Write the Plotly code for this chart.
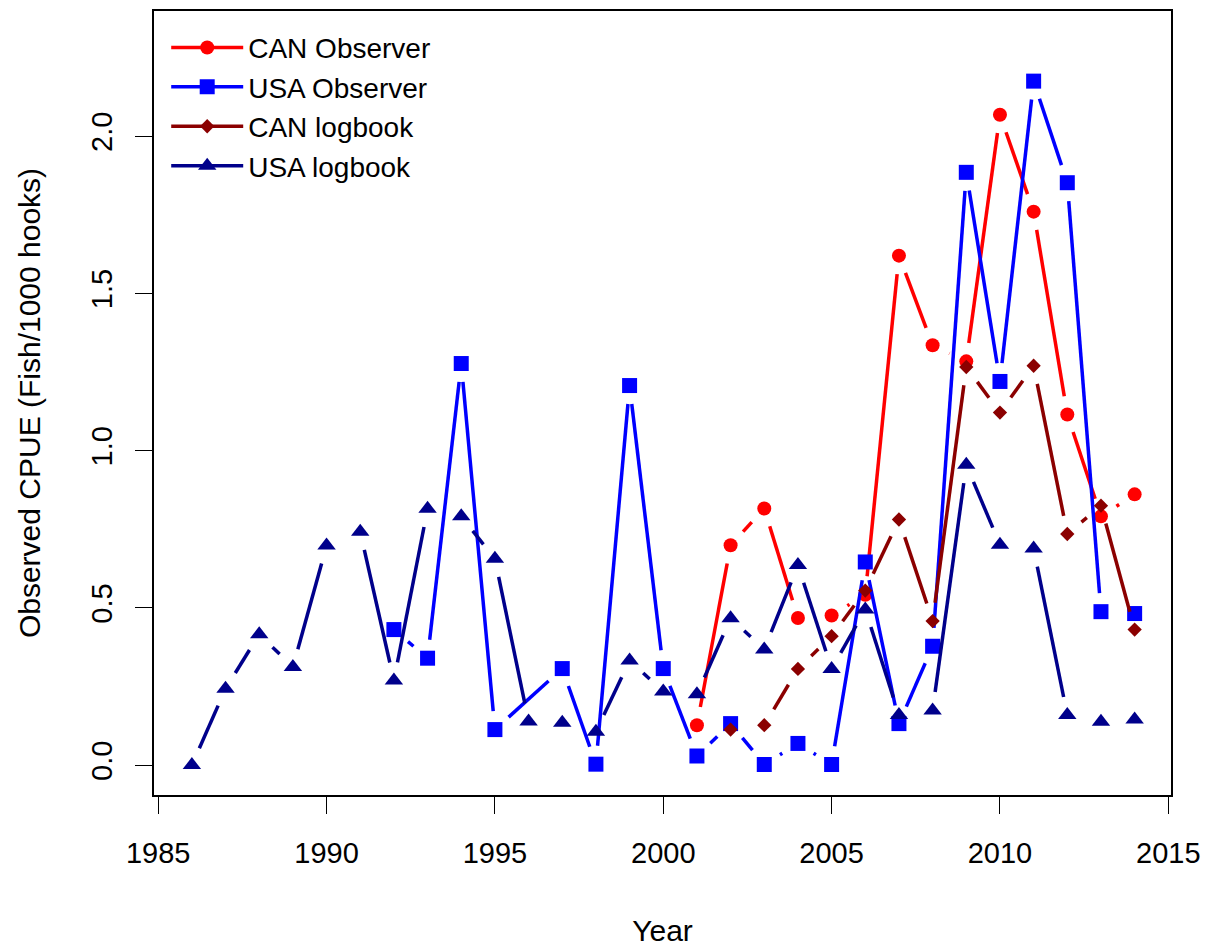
import math
import plotly.graph_objects as go

# ---- data ----
can_obs_years = [2001, 2002, 2003, 2004, 2005, 2006, 2007, 2008, 2009, 2010, 2011, 2012, 2013, 2014]
can_obs_cpue = [0.127, 0.699, 0.816, 0.468, 0.476, 0.542, 1.620, 1.335, 1.284, 2.068, 1.760, 1.115, 0.791, 0.861]

usa_obs_years = [1992, 1993, 1994, 1995, 1997, 1998, 1999, 2000, 2001, 2002, 2003, 2004, 2005,
                 2006, 2007, 2008, 2009, 2010, 2011, 2012, 2013, 2014]
usa_obs_cpue = [0.431, 0.340, 1.277, 0.113, 0.307, 0.003, 1.207, 0.307, 0.029, 0.132, 0.002, 0.069, 0.002,
                0.646, 0.132, 0.378, 1.885, 1.220, 2.175, 1.852, 0.488, 0.482]

can_log_years = [2002, 2003, 2004, 2005, 2006, 2007, 2008, 2009, 2010, 2011, 2012, 2013, 2014]
can_log_cpue = [0.113, 0.127, 0.306, 0.410, 0.555, 0.781, 0.458, 1.266, 1.121, 1.270, 0.735, 0.825, 0.431]

usa_log_years = list(range(1986, 2015))
usa_log_cpue = [0.000, 0.243, 0.416, 0.312, 0.698, 0.742, 0.269, 0.815, 0.791, 0.656,
                0.139, 0.135, 0.106, 0.333, 0.234, 0.225, 0.467, 0.368, 0.636, 0.306,
                0.495, 0.159, 0.174, 0.955, 0.701, 0.689, 0.159, 0.138, 0.145]

x_ticks = [1985, 1990, 1995, 2000, 2005, 2010, 2015]
y_ticks = [0.0, 0.5, 1.0, 1.5, 2.0]
y_tick_text = ["0.0", "0.5", "1.0", "1.5", "2.0"]

# ---- layout geometry ----
FIG_W, FIG_H = 1216, 949
M_L, M_R, M_T, M_B = 154, 45, 11, 154
PLOT_W = FIG_W - M_L - M_R
PLOT_H = FIG_H - M_T - M_B
X_RANGE = [1984.875, 2015.08]
Y_RANGE = [-0.095, 2.398]
FONT = "Liberation Sans, Arial, sans-serif"
FS = 29


def gapped(xs, ys, gap=18.5):
    """Line segments between points, stopping short of each point (R type='b')."""
    sx = PLOT_W / (X_RANGE[1] - X_RANGE[0])
    sy = PLOT_H / (Y_RANGE[1] - Y_RANGE[0])
    ox, oy = [], []
    for i in range(len(xs) - 1):
        xa, ya, xb, yb = xs[i], ys[i], xs[i + 1], ys[i + 1]
        d = math.hypot((xb - xa) * sx, (yb - ya) * sy)
        if d <= 2 * gap:
            continue
        f = gap / d
        ox += [xa + (xb - xa) * f, xb - (xb - xa) * f, None]
        oy += [ya + (yb - ya) * f, yb - (yb - ya) * f, None]
    return ox, oy


series = [
    ("CAN Observer", can_obs_years, can_obs_cpue, "#FF0000", "circle", 14),
    ("USA Observer", usa_obs_years, usa_obs_cpue, "#0000FF", "square", 15),
    ("CAN logbook", can_log_years, can_log_cpue, "#8B0000", "diamond", 11),
    ("USA logbook", usa_log_years, usa_log_cpue, "#00008B", "triangle-up", 16),
]

fig = go.Figure()
for name, xs, ys, col, sym, sz in series:
    lx, ly = gapped(xs, ys)
    fig.add_trace(go.Scatter(x=lx, y=ly, mode="lines", line=dict(color=col, width=3.5),
                             showlegend=False, hoverinfo="skip", legendgroup=name))
    fig.add_trace(go.Scatter(x=xs, y=ys, mode="markers", name=name,
                             marker=dict(color=col, symbol=sym, size=sz),
                             showlegend=False, legendgroup=name))
    fig.add_trace(go.Scatter(x=[None], y=[None], mode="lines+markers", name=name,
                             line=dict(color=col, width=3.5),
                             marker=dict(color=col, symbol=sym, size=sz),
                             showlegend=True, legendgroup=name))

fig.update_layout(
    width=FIG_W, height=FIG_H,
    margin=dict(l=M_L, r=M_R, t=M_T, b=M_B, autoexpand=False),
    paper_bgcolor="white", plot_bgcolor="white",
    font=dict(family=FONT, size=FS, color="black"),
    legend=dict(x=0.012, y=0.985, xanchor="left", yanchor="top",
                bgcolor="rgba(0,0,0,0)", borderwidth=0, itemwidth=72,
                font=dict(family=FONT, size=28), tracegroupgap=0),
    xaxis=dict(range=X_RANGE, tickvals=x_ticks, ticks="outside", ticklen=17,
               tickwidth=1, tickcolor="black", showgrid=False, zeroline=False,
               showline=True, mirror=True, linecolor="black", linewidth=1.5,
               ticklabelstandoff=14,
               title=dict(text="Year", standoff=52, font=dict(size=30))),
    yaxis=dict(range=Y_RANGE, tickvals=y_ticks, ticktext=y_tick_text, ticks="outside",
               ticklen=17, tickwidth=1, tickcolor="black", tickangle=-90,
               showgrid=False, zeroline=False, showline=True, mirror=True,
               linecolor="black", linewidth=1.5, ticklabelstandoff=12,
               title=dict(text="Observed CPUE (Fish/1000 hooks)", standoff=36, font=dict(size=30))),
)

fig.write_html("out.html")
